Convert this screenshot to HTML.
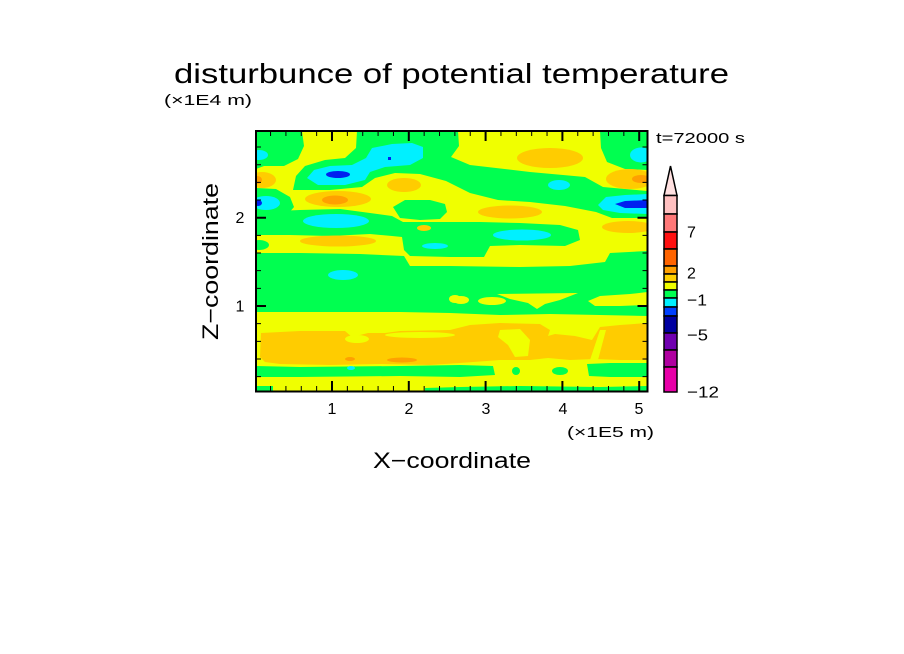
<!DOCTYPE html>
<html><head><meta charset="utf-8"><style>
html,body{margin:0;padding:0;background:#fff;width:904px;height:654px;overflow:hidden}
svg{display:block}
text{font-family:"Liberation Sans",sans-serif;fill:#000}
</style></head><body>
<svg width="904" height="654" viewBox="0 0 904 654" xmlns="http://www.w3.org/2000/svg">
<defs><clipPath id="c"><rect x="256" y="131" width="391.5" height="260.5"/></clipPath></defs>
<rect width="904" height="654" fill="#fff"/>
<g clip-path="url(#c)">
<rect x="256" y="131" width="392" height="261" fill="#f0ff00"/>
<path fill="#00ff50" d="M256,131 L302,131 L304,146 L298,159 L284,166 L264,166 L256,169 Z"/>
<ellipse fill="#00f0ff" cx="259" cy="155" rx="9" ry="5"/>
<path fill="#00ff50" d="M293,190 L296,176 L305,166 L325,160 L345,158 L356,148 L357,131 L458,131 L459,146 L451,157 L470,165 L530,172 L585,177 L603,187 L647,191 L647,218 L612,218 L596,212 L565,206 L530,202 L498,200 L470,193 L446,181 L420,174 L395,173 L375,178 L362,187 L330,190 Z"/>
<path fill="#00ff50" d="M600,131 L648,131 L648,170 L625,169 L607,162 L601,148 Z"/>
<ellipse fill="#00f0ff" cx="641" cy="155" rx="11" ry="7.5"/>
<ellipse fill="#ffcc00" cx="550" cy="158" rx="33" ry="10"/>
<ellipse fill="#ffcc00" cx="404" cy="185" rx="17" ry="7"/>
<ellipse fill="#ffcc00" cx="262" cy="180" rx="14" ry="8"/>
<ellipse fill="#ffa000" cx="257" cy="180" rx="5" ry="4"/>
<ellipse fill="#ffcc00" cx="630" cy="179" rx="24" ry="10"/>
<ellipse fill="#ffa000" cx="641" cy="179" rx="9" ry="4"/>
<path fill="#00f0ff" d="M307,178 L314,170 L330,166 L352,165 L366,158 L372,148 L392,144 L412,143 L423,147 L423,158 L410,165 L385,167 L370,172 L365,180 L345,185 L318,185 Z"/>
<ellipse fill="#0020f0" cx="338" cy="174.5" rx="12" ry="3.5"/>
<rect fill="#0020f0" x="388" y="157" width="3" height="3"/>
<ellipse fill="#00f0ff" cx="559" cy="185" rx="11" ry="5"/>
<path fill="#00f0ff" d="M598,205 L606,197 L625,195 L648,194 L648,214 L620,213 L603,210 Z"/>
<path fill="#0020f0" d="M615,204 L625,201 L648,200 L648,208 L625,208 Z"/>
<path fill="#00ff50" d="M256,188 L276,189 L290,197 L294,207 L288,214 L256,216 Z"/>
<ellipse fill="#00f0ff" cx="266" cy="203" rx="14" ry="7"/>
<ellipse fill="#0020f0" cx="258" cy="203" rx="4" ry="3"/>
<path fill="#00ff50" d="M393,207 L405,200 L430,200 L445,204 L447,212 L440,219 L420,220 L400,218 Z"/>
<path fill="#00ff50" d="M256,212 L300,210 L340,209 L370,213 L392,216 L403,222 L440,222 L480,222 L520,223 L560,225 L578,230 L580,240 L565,246 L520,245 L490,246 L484,257 L450,257 L410,256 L404,250 L402,237 L392,236 L370,234 L330,236 L290,235 L256,235 Z"/>
<ellipse fill="#00f0ff" cx="336" cy="221" rx="33" ry="7"/>
<ellipse fill="#00f0ff" cx="522" cy="235" rx="29" ry="5.5"/>
<ellipse fill="#00f0ff" cx="435" cy="246" rx="13" ry="3"/>
<ellipse fill="#ffcc00" cx="338" cy="199" rx="33" ry="8"/>
<ellipse fill="#ffa000" cx="335" cy="200" rx="13" ry="4.5"/>
<ellipse fill="#ffcc00" cx="510" cy="212" rx="32" ry="6.5"/>
<ellipse fill="#ffcc00" cx="628" cy="227" rx="26" ry="6"/>
<ellipse fill="#ffcc00" cx="338" cy="241" rx="38" ry="5.5"/>
<ellipse fill="#ffcc00" cx="424" cy="228" rx="7" ry="3"/>
<ellipse fill="#00ff50" cx="259" cy="245" rx="10" ry="5"/>
<path fill="#00ff50" d="M256,253 L300,253 L360,254 L404,256 L410,266 L450,266 L520,267 L570,266 L605,262 L610,253 L648,251 L648,316 L600,315 L550,314 L500,315 L450,313 L400,312 L350,312 L300,312 L256,312 Z"/>
<ellipse fill="#00f0ff" cx="343" cy="275" rx="15" ry="5"/>
<ellipse fill="#f0ff00" cx="461" cy="300" rx="8" ry="4"/>
<ellipse fill="#f0ff00" cx="492" cy="301" rx="14" ry="4"/>
<path fill="#f0ff00" d="M497,294 L578,293 L560,300 L545,304 L537,309 L528,303 L510,299 Z"/>
<path fill="#f0ff00" d="M588,301 L600,296 L630,294 L648,292 L648,305 L620,306 L595,306 Z"/>
<ellipse fill="#f0ff00" cx="455" cy="299" rx="6" ry="4"/>
<path fill="#ffcc00" d="M260,357 L261,333 L300,331 L345,331 L352,337 L368,333 L385,333 L400,331 L450,330 L470,325 L500,323 L540,324 L550,330 L548,336 L555,334 L575,336 L592,340 L600,327 L620,325 L648,323 L648,360 L620,360 L595,359 L570,360 L548,358 L530,360 L500,360 L460,363 L430,365 L380,364 L330,365 L280,364 L265,362 Z"/>
<ellipse fill="#f0ff00" cx="357" cy="339" rx="12" ry="4"/>
<ellipse fill="#f0ff00" cx="420" cy="335" rx="35" ry="3"/>
<path fill="#f0ff00" d="M500,330 L520,329 L530,340 L528,356 L515,357 L508,345 L498,337 Z"/>
<path fill="#f0ff00" d="M590,360 L595,345 L600,330 L606,330 L602,345 L598,360 Z"/>
<ellipse fill="#ffa000" cx="402" cy="360" rx="15" ry="2.5"/>
<ellipse fill="#ffa000" cx="350" cy="359" rx="5" ry="2"/>
<path fill="#00ff50" d="M256,366 L300,367 L400,366 L460,365 L493,366 L495,375 L460,377 L400,376 L300,377 L256,377 Z"/>
<path fill="#00ff50" d="M587,364 L610,363 L648,363 L648,377 L610,377 L589,376 Z"/>
<ellipse fill="#00ff50" cx="516" cy="371" rx="4" ry="4"/>
<ellipse fill="#00ff50" cx="560" cy="371" rx="8" ry="4"/>
<ellipse fill="#00f0ff" cx="351" cy="368" rx="4" ry="2"/>
<path fill="#00ff50" d="M425,388 L460,387 L520,386 L600,387 L648,386 L648,392 L425,392 Z"/>
<rect fill="#00ff50" x="256" y="386" width="17" height="6"/>
</g>
<rect x="256" y="131" width="391.5" height="260.5" fill="none" stroke="#000" stroke-width="2"/>
<path stroke="#000" stroke-width="1" fill="none" d="
M270.56,131v5M285.92,131v5M301.28,131v5M316.64,131v5M347.36,131v5M362.72,131v5M378.08,131v5M393.44,131v5M424.16,131v5M439.52,131v5M454.88,131v5M470.24,131v5M500.96,131v5M516.32,131v5M531.68,131v5M547.04,131v5M577.76,131v5M593.12,131v5M608.48,131v5M623.84,131v5
M270.56,391v-5M285.92,391v-5M301.28,391v-5M316.64,391v-5M347.36,391v-5M362.72,391v-5M378.08,391v-5M393.44,391v-5M424.16,391v-5M439.52,391v-5M454.88,391v-5M470.24,391v-5M500.96,391v-5M516.32,391v-5M531.68,391v-5M547.04,391v-5M577.76,391v-5M593.12,391v-5M608.48,391v-5M623.84,391v-5
M256,376.64h5M256,358.98h5M256,341.32h5M256,323.66h5M256,288.34h5M256,270.68h5M256,253.02h5M256,235.36h5M256,200.04h5M256,182.38h5M256,164.72h5M256,147.06h5
M647.5,376.64h-5M647.5,358.98h-5M647.5,341.32h-5M647.5,323.66h-5M647.5,288.34h-5M647.5,270.68h-5M647.5,253.02h-5M647.5,235.36h-5M647.5,200.04h-5M647.5,182.38h-5M647.5,164.72h-5M647.5,147.06h-5"/>
<path stroke="#000" stroke-width="2" fill="none" d="
M332,131v10M408.8,131v10M485.6,131v10M562.4,131v10M639.2,131v10
M332,391v-10M408.8,391v-10M485.6,391v-10M562.4,391v-10M639.2,391v-10
M256,306h10M256,217.7h10M647.5,306h-10M647.5,217.7h-10"/>
<text x="174" y="83" font-size="28" textLength="555" lengthAdjust="spacingAndGlyphs">disturbunce of potential temperature</text>
<text x="164" y="105" font-size="15" textLength="88" lengthAdjust="spacingAndGlyphs">(×1E4 m)</text>
<text x="656" y="143" font-size="15" textLength="89" lengthAdjust="spacingAndGlyphs">t=72000 s</text>
<text x="240" y="223" font-size="16" text-anchor="middle">2</text>
<text x="240" y="311.5" font-size="16" text-anchor="middle">1</text>
<text x="332" y="414" font-size="16" text-anchor="middle">1</text>
<text x="409" y="414" font-size="16" text-anchor="middle">2</text>
<text x="486" y="414" font-size="16" text-anchor="middle">3</text>
<text x="563" y="414" font-size="16" text-anchor="middle">4</text>
<text x="639" y="414" font-size="16" text-anchor="middle">5</text>
<text x="567" y="437" font-size="15" textLength="87" lengthAdjust="spacingAndGlyphs">(×1E5 m)</text>
<text x="373" y="468" font-size="22" textLength="158" lengthAdjust="spacingAndGlyphs">X−coordinate</text>
<text transform="translate(218,261.5) rotate(-90)" x="0" y="0" font-size="22" text-anchor="middle" textLength="157" lengthAdjust="spacingAndGlyphs">Z−coordinate</text>
<polygon points="670.5,166 664,195.5 677,195.5" fill="#ffe0e0" stroke="#000" stroke-width="1.5"/>
<g stroke="#000" stroke-width="1.5">
<rect x="664" y="195.5" width="13" height="18.5" fill="#ffc0c0"/>
<rect x="664" y="214" width="13" height="18" fill="#ff7878"/>
<rect x="664" y="232" width="13" height="17" fill="#ff1010"/>
<rect x="664" y="249" width="13" height="17" fill="#ff6400"/>
<rect x="664" y="266" width="13" height="8" fill="#ffa000"/>
<rect x="664" y="274" width="13" height="8" fill="#ffd000"/>
<rect x="664" y="282" width="13" height="8" fill="#f0ff00"/>
<rect x="664" y="290" width="13" height="8" fill="#00ff50"/>
<rect x="664" y="298" width="13" height="9" fill="#00f0ff"/>
<rect x="664" y="307" width="13" height="9" fill="#0040ff"/>
<rect x="664" y="316" width="13" height="17" fill="#0000a0"/>
<rect x="664" y="333" width="13" height="17" fill="#7000b0"/>
<rect x="664" y="350" width="13" height="17" fill="#b000a0"/>
<rect x="664" y="367" width="13" height="25" fill="#e800a8"/>
</g>
<text x="687" y="237.5" font-size="16">7</text>
<text x="687" y="278.5" font-size="16">2</text>
<text x="687" y="305.5" font-size="16" textLength="20" lengthAdjust="spacingAndGlyphs">−1</text>
<text x="687" y="340.5" font-size="16" textLength="21" lengthAdjust="spacingAndGlyphs">−5</text>
<text x="687" y="397.5" font-size="16" textLength="32" lengthAdjust="spacingAndGlyphs">−12</text>
</svg>
</body></html>
